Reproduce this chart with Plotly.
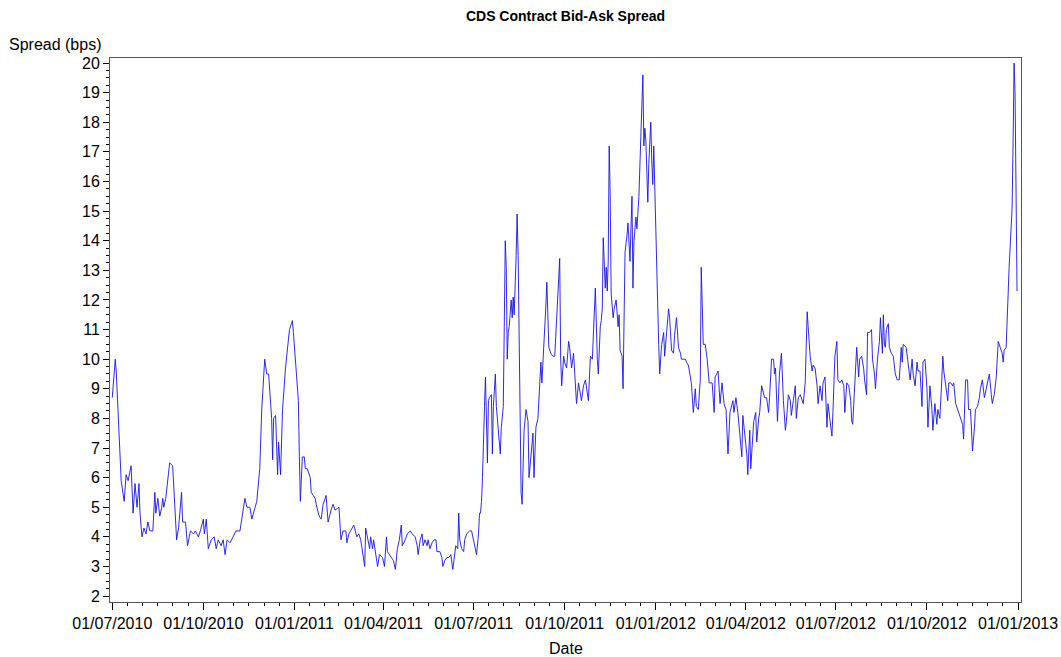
import pandas as pd
import plotly.graph_objects as go

# Daily CDS bid-ask spread, keyed by calendar days since 01/07/2010
start_date = "2010-07-01"
day_offset = [
    0, 3, 4, 6, 7, 9, 12, 14, 16, 19, 21, 23, 25, 27, 28, 30, 32, 34, 36, 38,
    41, 43, 44, 46, 48, 50, 51, 52, 54, 56, 58, 61, 63, 65, 67, 70, 71, 74, 76, 79,
    82, 84, 87, 89, 92, 93, 95, 97, 100, 103, 105, 107, 110, 112, 114, 116, 119, 122, 125, 129,
    132, 134, 136, 139, 141, 144, 146, 149, 151, 154, 156, 158, 161, 162, 163, 165, 167, 168, 170, 172,
    175, 179, 182, 183, 186, 188, 189, 190, 192, 194,
    195, 197, 200, 201, 203, 205, 206, 209, 211, 213, 216, 218, 221, 223, 225, 229, 231, 233, 236, 237,
    239, 242, 244, 247, 249, 251, 253, 255, 256, 258, 260, 261, 263, 264, 266, 268, 270, 273, 275, 277,
    278, 280, 282, 284, 286, 288, 290, 292, 293, 296, 298, 301, 303, 306, 308, 309, 311, 313, 314, 316,
    318, 319, 321, 323, 325, 327, 328, 331, 333, 334, 336, 338, 340, 342, 344, 346, 347, 349, 350, 351,
    353, 355, 356, 358, 361, 363, 365, 368, 370, 371, 372, 373, 374,
    375, 376, 377, 378, 379, 380, 381, 383, 384, 385, 387, 388, 390, 392, 393, 395, 396, 397, 398, 399,
    400, 401, 403, 404, 405, 406, 408, 409, 410, 411, 412, 413, 414, 415, 416, 418, 420, 421, 423, 425,
    426, 428, 430, 431, 433, 434, 436, 437, 438, 439, 440, 441, 443, 445, 447, 449, 450, 451, 452, 453,
    454, 456, 457, 459, 461, 462, 464, 466, 467, 469, 471, 472, 474, 476, 478, 481, 483, 485, 487, 488,
    490, 491, 493, 494, 495, 496, 498, 499, 500, 501, 502, 503, 504, 506, 507, 509, 511, 512, 513, 515,
    516, 517, 518, 520, 521, 523, 525, 526, 527, 529, 530, 532, 534, 535, 536, 537, 538, 539, 541, 542,
    544, 545, 546, 547, 549, 550, 552, 553, 555, 557, 558, 560, 562, 563, 565, 567, 568, 570, 572, 574,
    575, 579, 580, 582, 584, 585, 587, 589, 590, 592, 594, 595, 596, 597, 599, 601, 603, 606, 608, 609,
    612, 614,
    616, 618, 620, 621, 622, 624, 626, 627, 628, 630, 632, 634, 636, 637, 639, 641, 642, 644, 645, 647,
    648, 650, 651, 653, 654, 656, 658, 659, 661, 663, 664, 666, 668, 669, 670, 672, 674, 675, 676, 678,
    680, 681, 683, 685, 686, 688, 690, 691, 693, 695, 697, 698, 700, 701, 702, 703, 705, 707, 708, 710,
    712, 713, 715, 717, 718, 720, 722, 723, 725, 727, 728, 730, 732, 733, 735, 737, 739, 740, 742, 744,
    746, 747, 748, 750, 752, 754, 755, 757, 759, 760, 762, 763, 765, 767, 768, 770, 771, 773, 775, 776,
    778, 779, 780, 781, 782, 784, 785, 787, 789, 791, 793, 795, 797, 798, 799, 802, 803, 805, 806, 808,
    809, 811, 813, 814, 816, 818, 819, 821, 823, 824, 826, 828, 829, 831, 833, 834, 836, 838, 839, 840,
    842, 844, 845, 847, 849, 850, 852, 854, 855, 857, 859, 860, 861, 862, 864, 865, 867, 868, 869, 871,
    872, 874, 876, 877, 879, 881, 883, 884, 886, 888, 889, 891, 893, 894, 895, 897, 899, 900, 901, 903,
    904, 905, 906, 907, 908, 909, 910, 911, 912, 913, 914,
]
spread_bps = [
    8.7, 10.0, 9.6, 8.2, 7.5, 5.9, 5.2, 6.1, 5.9, 6.4, 4.8, 5.8, 5.0, 5.8, 4.8, 4.0, 4.3, 4.1, 4.5, 4.2,
    4.2, 5.5, 4.8, 5.3, 4.7, 5.0, 5.3, 5.0, 5.3, 6.0, 6.5, 6.4, 5.0, 3.9, 4.3, 5.5, 4.5, 4.5, 3.7, 4.2,
    4.1, 4.2, 4.0, 4.2, 4.6, 4.1, 4.6, 3.6, 3.9, 4.0, 3.6, 3.9, 3.7, 3.9, 3.4, 3.9, 3.8, 4.0, 4.2, 4.2,
    4.8, 5.3, 5.0, 5.0, 4.6, 5.0, 5.2, 6.3, 8.3, 10.0, 9.5, 9.5, 8.0, 6.6, 8.0, 8.1, 6.1, 7.2, 6.1, 8.3,
    9.7, 11.0, 11.3, 10.9, 9.7, 8.6, 6.7, 5.2, 6.7, 6.7,
    6.3, 6.3, 6.0, 5.5, 5.4, 5.3, 5.1, 4.7, 4.6, 5.1, 5.4, 4.5, 4.9, 5.1, 4.9, 5.0, 3.9, 4.2, 4.2, 3.8,
    4.1, 4.3, 4.4, 4.0, 4.1, 3.9, 3.5, 3.0, 4.3, 4.0, 3.6, 4.0, 3.6, 3.9, 3.5, 3.0, 3.4, 3.3, 3.0, 4.0,
    3.5, 3.4, 3.3, 3.2, 2.9, 3.6, 3.9, 4.4, 3.7, 3.9, 4.1, 4.2, 4.1, 4.0, 3.7, 3.4, 3.9, 4.1, 3.7, 3.9,
    3.7, 3.9, 3.6, 3.8, 3.9, 3.9, 3.5, 3.5, 3.3, 3.0, 3.2, 3.3, 3.3, 3.4, 2.9, 3.4, 3.7, 3.6, 4.8, 3.9,
    3.6, 3.5, 3.9, 4.1, 4.2, 4.2, 3.9, 3.4, 4.1, 4.8, 4.8, 5.2, 6.0,
    6.9, 8.4, 9.4, 7.5, 6.5, 8.6, 8.7, 8.8, 6.8, 8.4, 9.5, 8.4, 7.5, 6.8, 7.7, 8.4, 11.1, 14.0, 13.1, 10.0,
    10.9, 11.1, 12.0, 11.4, 12.1, 11.5, 13.5, 14.9, 13.5, 10.5, 8.3, 5.5, 5.1, 6.6, 7.6, 8.3, 7.9, 6.0, 6.9, 7.5,
    6.0, 7.7, 8.0, 8.7, 9.9, 9.2, 10.3, 10.9, 11.8, 12.6, 11.4, 10.4, 10.2, 10.1, 10.1, 11.5, 11.8, 12.4, 13.4, 10.0,
    9.1, 10.1, 9.9, 9.7, 10.6, 10.4, 9.7, 10.2, 9.5, 8.5, 9.2, 9.0, 8.6, 9.1, 9.3, 8.6, 10.1, 10.0, 11.8, 12.4,
    10.0, 9.5, 11.1, 11.3, 11.7, 14.1, 12.4, 13.1, 12.3, 13.3, 17.2, 15.5, 12.2, 11.4, 11.7, 12.0, 11.1, 11.5, 10.3, 10.1,
    9.0, 12.3, 13.6, 14.2, 14.6, 13.3, 15.5, 12.4, 14.0, 14.8, 14.4, 15.5, 17.8, 19.2, 19.6, 17.2, 17.8, 17.4, 15.3, 16.6,
    18.0, 16.7, 15.9, 17.2, 14.5, 12.4, 10.5, 9.5, 10.5, 10.9, 10.1, 10.9, 11.7, 11.4, 10.3, 10.2, 10.8, 11.4, 10.4, 10.2,
    10.0, 10.0, 9.9, 9.8, 9.4, 9.2, 8.2, 9.0, 8.4, 8.3, 9.3, 13.1, 11.8, 10.5, 10.5, 10.0, 9.2, 9.2, 8.2, 9.4,
    9.6, 8.5,
    9.2, 8.5, 8.3, 7.7, 6.8, 8.2, 8.5, 8.6, 8.2, 8.7, 8.2, 7.5, 6.7, 8.1, 7.4, 6.8, 6.1, 7.6, 6.3, 7.3,
    7.9, 8.2, 7.2, 8.0, 8.2, 9.1, 8.8, 8.7, 8.7, 8.2, 8.7, 10.0, 10.0, 9.5, 9.7, 7.9, 9.5, 10.0, 10.2, 8.6,
    7.6, 7.9, 8.8, 8.6, 8.1, 8.6, 9.1, 8.0, 8.7, 8.8, 8.6, 8.5, 9.2, 10.6, 11.6, 11.1, 10.1, 9.6, 9.8, 9.7,
    9.1, 8.5, 9.1, 8.6, 9.2, 9.4, 7.7, 8.5, 7.9, 7.4, 8.2, 10.1, 10.6, 9.3, 9.2, 9.3, 9.1, 8.2, 9.2, 9.1,
    8.6, 7.9, 7.8, 9.3, 10.4, 9.4, 10.0, 10.1, 9.7, 9.3, 8.8, 10.9, 10.9, 11.0, 10.0, 9.5, 9.0, 10.0, 10.6, 11.4,
    10.2, 11.5, 10.5, 10.4, 11.0, 11.2, 10.4, 10.2, 10.1, 9.5, 9.3, 9.3, 10.4, 9.9, 10.5, 10.4, 10.1, 9.7, 9.3, 10.0,
    9.5, 9.1, 9.9, 9.6, 9.6, 8.4, 9.9, 10.0, 9.0, 7.7, 9.1, 8.3, 7.6, 8.5, 7.8, 8.3, 8.0, 9.3, 10.1, 9.6,
    9.1, 8.6, 9.2, 9.2, 9.1, 9.2, 8.5, 8.3, 8.2, 8.0, 7.8, 7.3, 8.8, 9.3, 9.3, 8.3, 8.3, 7.5, 6.9, 7.7,
    8.3, 8.4, 8.7, 9.0, 9.3, 8.7, 9.0, 9.2, 9.5, 8.8, 8.5, 8.8, 9.4, 10.0, 10.6, 10.4, 10.2, 9.9, 10.3, 10.4,
    11.8, 12.2, 13.1, 13.8, 14.6, 15.1, 17.3, 20.0, 19.0, 15.1, 12.3,
]

# Quarterly date ticks on the x axis
quarter_starts = ["2010-07-01", "2010-10-01", "2011-01-01", "2011-04-01", "2011-07-01",
                  "2011-10-01", "2012-01-01", "2012-04-01", "2012-07-01", "2012-10-01", "2013-01-01"]
quarter_labels = ["01/07/2010", "01/10/2010", "01/01/2011", "01/04/2011", "01/07/2011",
                  "01/10/2011", "01/01/2012", "01/04/2012", "01/07/2012", "01/10/2012", "01/01/2013"]
y_ticks = list(range(2, 21))

dates = pd.Timestamp(start_date) + pd.to_timedelta(day_offset, unit="D")

# Five evenly spaced minor ticks inside each quarter
q = pd.to_datetime(quarter_starts)
minor_x = []
for a, b in zip(q[:-1], q[1:]):
    for k in range(1, 6):
        minor_x.append(a + (b - a) * k / 6)

FONT = "Arial, Liberation Sans, sans-serif"

fig = go.Figure()
fig.add_trace(go.Scatter(
    x=dates, y=spread_bps, mode="lines",
    line=dict(color="rgb(20,20,235)", width=0.9),
    showlegend=False,
))

fig.update_layout(
    width=1061, height=657,
    margin=dict(l=110, r=40, t=58, b=55),
    paper_bgcolor="white", plot_bgcolor="white",
    font=dict(family=FONT, size=16, color="black"),
    title=dict(text="<b>CDS Contract Bid-Ask Spread</b>", x=0.5, xref="paper",
               y=0.9756, yref="container", xanchor="center", yanchor="middle",
               font=dict(size=14, family=FONT, color="black")),
    xaxis=dict(
        type="date", automargin=False,
        range=[pd.Timestamp(start_date) - pd.Timedelta(hours=55),
               pd.Timestamp("2013-01-01") + pd.Timedelta(days=3)],
        tickmode="array", tickvals=q, ticktext=quarter_labels,
        ticks="outside", ticklen=7, tickcolor="black", tickwidth=1,
        showline=True, linecolor="#555555", linewidth=1, mirror=True,
        showgrid=False, zeroline=False,
        tickfont=dict(size=16),
        minor=dict(tickmode="array", tickvals=minor_x, ticks="outside",
                   ticklen=3, tickcolor="black", showgrid=False),
    ),
    yaxis=dict(
        range=[1.8, 20.17], automargin=False,
        tickmode="array", tickvals=y_ticks,
        ticks="outside", ticklen=6, tickcolor="black", tickwidth=1,
        showline=True, linecolor="#555555", linewidth=1, mirror=True,
        showgrid=False, zeroline=False,
        tickfont=dict(size=16),
        minor=dict(dtick=0.25, tick0=2, ticks="outside", ticklen=3,
                   tickcolor="black", showgrid=False),
    ),
    annotations=[
        dict(text="Spread (bps)", xref="paper", yref="paper", x=0, y=1,
             xanchor="right", yanchor="bottom", xshift=-6, yshift=3,
             showarrow=False, font=dict(size=16, family=FONT, color="black")),
        dict(text="Date", xref="paper", yref="paper", x=0.5, y=0,
             xanchor="center", yanchor="middle", yshift=-46,
             showarrow=False, font=dict(size=16, family=FONT, color="black")),
    ],
)

fig.write_html("out.html")
